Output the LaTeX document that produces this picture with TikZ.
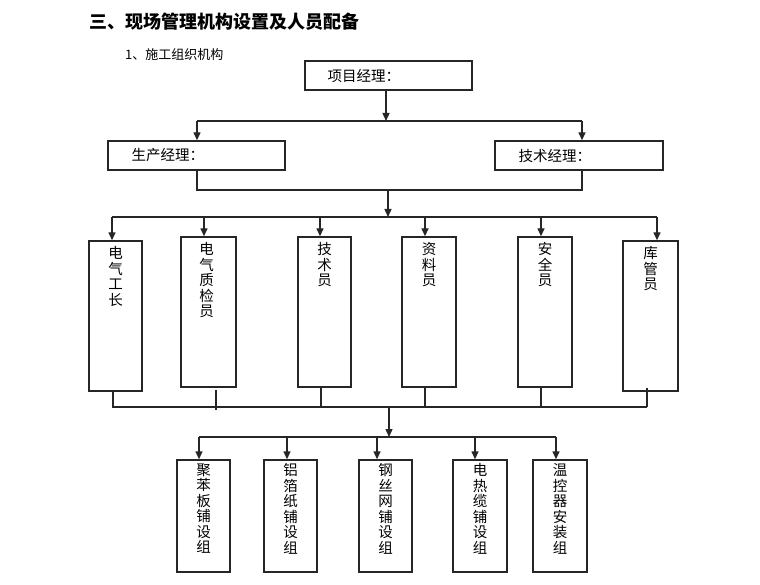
\documentclass[tikz,border=0pt]{standalone}
\usepackage{fontspec}
\newfontfamily\cjk{Noto Sans CJK SC}
\usetikzlibrary{arrows.meta}
\begin{document}
\begin{tikzpicture}[x=1pt,y=-1pt,
  line/.style={draw=black!85, line width=1.4pt},
  arr/.style={line, -{Triangle[width=7pt,length=8pt]}},
  boxs/.style={draw=black!85, line width=1.4pt, inner sep=0pt},
  htext/.style={anchor=west, inner sep=0pt, font=\cjk\fontsize{14.5}{16}\selectfont},
  vtext/.style={anchor=north, inner sep=0pt, align=center, font=\cjk\fontsize{14.5}{15.5}\selectfont}
]
\useasboundingbox (0,0) rectangle (760,585);

% titles
\node[anchor=west, inner sep=0pt, font=\cjk\bfseries\fontsize{18}{20}\selectfont] (title) at (89,22) {三、现场管理机构设置及人员配备};
\node[anchor=west, inner sep=0pt, font=\cjk\fontsize{13}{15}\selectfont] (sub) at (125,55) {1、施工组织机构};

% top level
\node[boxs, minimum width=167pt, minimum height=29pt] (pm) at (388.5,75.5) {};
\node[htext] (pmt) at ([xshift=23pt]pm.west) {项目经理：};
\node[boxs, minimum width=177pt, minimum height=29pt] (s) at (196.5,155.5) {};
\node[htext] (st) at ([xshift=24pt]s.west) {生产经理：};
\node[boxs, minimum width=168pt, minimum height=29pt] (t) at (579,155.5) {};
\node[htext] (tt) at ([xshift=24pt]t.west) {技术经理：};

% middle boxes
\node[boxs, minimum width=53pt, minimum height=150pt] (m1) at (115.5,316) {};
\node[boxs, minimum width=55pt, minimum height=150pt] (m2) at (208.5,312) {};
\node[boxs, minimum width=53pt, minimum height=150pt] (m3) at (324.5,312) {};
\node[boxs, minimum width=54pt, minimum height=150pt] (m4) at (429,312) {};
\node[boxs, minimum width=54pt, minimum height=150pt] (m5) at (545,312) {};
\node[boxs, minimum width=55pt, minimum height=150pt] (m6) at (650.5,316) {};
\node[vtext] (m1t) at ([yshift=-6pt]m1.north) {电\\气\\工\\长};
\node[vtext] (m2t) at ([yshift=-6pt,xshift=-2pt]m2.north) {电\\气\\质\\检\\员};
\node[vtext] (m3t) at ([yshift=-6pt]m3.north) {技\\术\\员};
\node[vtext] (m4t) at ([yshift=-6pt]m4.north) {资\\料\\员};
\node[vtext] (m5t) at ([yshift=-6pt]m5.north) {安\\全\\员};
\node[vtext] (m6t) at ([yshift=-6pt]m6.north) {库\\管\\员};

% bottom boxes
\node[boxs, minimum width=53pt, minimum height=112pt] (b1) at (203.5,516) {};
\node[boxs, minimum width=53pt, minimum height=112pt] (b2) at (290.5,516) {};
\node[boxs, minimum width=53pt, minimum height=112pt] (b3) at (385.5,516) {};
\node[boxs, minimum width=54pt, minimum height=112pt] (b4) at (480,516) {};
\node[boxs, minimum width=54pt, minimum height=112pt] (b5) at (560,516) {};
\node[vtext] (b1t) at ([yshift=-4pt]b1.north) {聚\\苯\\板\\铺\\设\\组};
\node[vtext] (b2t) at ([yshift=-4pt]b2.north) {铝\\箔\\纸\\铺\\设\\组};
\node[vtext] (b3t) at ([yshift=-4pt]b3.north) {钢\\丝\\网\\铺\\设\\组};
\node[vtext] (b4t) at ([yshift=-4pt]b4.north) {电\\热\\缆\\铺\\设\\组};
\node[vtext] (b5t) at ([yshift=-4pt]b5.north) {温\\控\\器\\安\\装\\组};

% connectors level 1
\coordinate (j1) at (386,121);
\coordinate (l1) at (197,121);
\coordinate (r1) at (582,121);
\draw[arr] (pm.south -| j1) -- (j1);
\draw[line] (l1) -- (r1);
\draw[arr] (l1) -- (l1 |- s.north);
\draw[arr] (r1) -- (r1 |- t.north);

% level 2
\coordinate (l2) at (197,190);
\coordinate (r2) at (582,190);
\coordinate (j2) at (388,190);
\coordinate (j3) at (388,217);
\draw[line] (l2 |- s.south) -- (l2) -- (r2) -- (r2 |- t.south);
\draw[arr] (j2) -- (j3);
\coordinate (a1) at (112,217);
\coordinate (a2) at (204,217);
\coordinate (a3) at (320,217);
\coordinate (a4) at (425,217);
\coordinate (a5) at (541,217);
\coordinate (a6) at (657,217);
\draw[line] (a1) -- (a6);
\draw[arr] (a1) -- (a1 |- m1.north);
\draw[arr] (a2) -- (a2 |- m2.north);
\draw[arr] (a3) -- (a3 |- m3.north);
\draw[arr] (a4) -- (a4 |- m4.north);
\draw[arr] (a5) -- (a5 |- m5.north);
\draw[arr] (a6) -- (a6 |- m6.north);

% level 3
\coordinate (c1) at (113,407);
\coordinate (c3) at (321,407);
\coordinate (c4) at (425,407);
\coordinate (c5) at (541,407);
\coordinate (c6) at (647,407);
\coordinate (c2a) at (216,390);
\coordinate (c2b) at (216,410);
\draw[line] (c1 |- m1.south) -- (c1) -- (c6);
\draw[line] (c3 |- m3.south) -- (c3);
\draw[line] (c4 |- m4.south) -- (c4);
\draw[line] (c5 |- m5.south) -- (c5);
\draw[line] ([yshift=4pt]c6 |- m6.south) -- (c6);
\draw[line] (c2a) -- (c2b);
\coordinate (j4) at (389,407);
\coordinate (j5) at (389,437);
\draw[arr] (j4) -- (j5);
\coordinate (d1) at (199,437);
\coordinate (d2) at (287,437);
\coordinate (d3) at (377,437);
\coordinate (d4) at (475,437);
\coordinate (d5) at (556,437);
\draw[line] (d1) -- (d5);
\draw[arr] (d1) -- (d1 |- b1.north);
\draw[arr] (d2) -- (d2 |- b2.north);
\draw[arr] (d3) -- (d3 |- b3.north);
\draw[arr] (d4) -- (d4 |- b4.north);
\draw[arr] (d5) -- (d5 |- b5.north);
\end{tikzpicture}
\end{document}
